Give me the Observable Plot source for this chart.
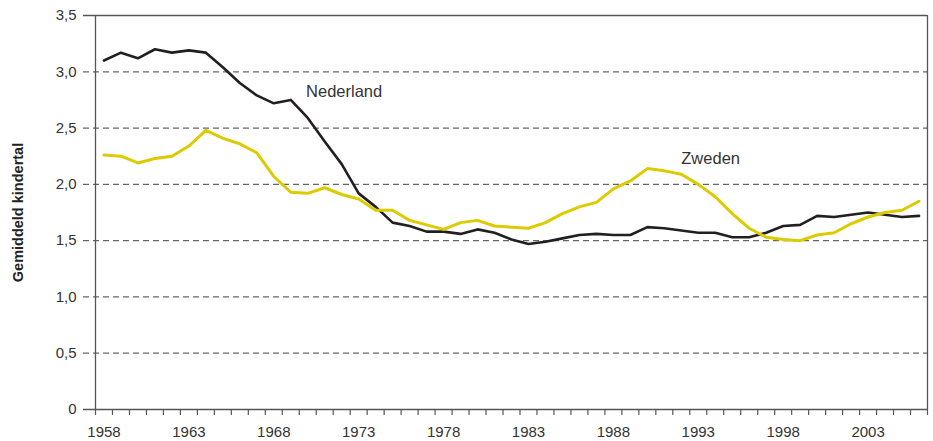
<!DOCTYPE html>
<html>
<head>
<meta charset="utf-8">
<script src="https://cdn.jsdelivr.net/npm/d3@7"></script>
<script src="https://cdn.jsdelivr.net/npm/@observablehq/plot@0.6"></script>
<style>
  html, body { margin: 0; padding: 0; background: #fff; }
  #chart { width: 933px; height: 441px; }
</style>
</head>
<body>
<div id="chart"></div>
<script>
const years = [1958,1959,1960,1961,1962,1963,1964,1965,1966,1967,1968,1969,1970,1971,1972,1973,1974,1975,1976,1977,1978,1979,1980,1981,1982,1983,1984,1985,1986,1987,1988,1989,1990,1991,1992,1993,1994,1995,1996,1997,1998,1999,2000,2001,2002,2003,2004,2005,2006];
const nederland = [3.10,3.17,3.12,3.20,3.17,3.19,3.17,3.04,2.90,2.79,2.72,2.75,2.59,2.38,2.18,1.92,1.80,1.66,1.63,1.58,1.58,1.56,1.60,1.57,1.51,1.47,1.49,1.52,1.55,1.56,1.55,1.55,1.62,1.61,1.59,1.57,1.57,1.53,1.53,1.57,1.63,1.64,1.72,1.71,1.73,1.75,1.73,1.71,1.72];
const zweden = [2.26,2.25,2.19,2.23,2.25,2.34,2.48,2.41,2.36,2.28,2.07,1.93,1.92,1.97,1.91,1.87,1.77,1.77,1.68,1.64,1.60,1.66,1.68,1.63,1.62,1.61,1.66,1.74,1.80,1.84,1.96,2.03,2.14,2.12,2.09,2.00,1.89,1.74,1.61,1.53,1.51,1.50,1.55,1.57,1.65,1.71,1.75,1.77,1.85];
const yTicks = [0,0.5,1.0,1.5,2.0,2.5,3.0,3.5];
const xLabelYears = [1958,1963,1968,1973,1978,1983,1988,1993,1998,2003];
const yTitle = "Gemiddeld kindertal";

const nlData = years.map((y,i) => ({year: y, value: nederland[i]}));
const seData = years.map((y,i) => ({year: y, value: zweden[i]}));
const fmt = d => d === 0 ? "0" : d.toFixed(1).replace(".", ",");
const boundaries = years.map(y => y - 0.5).concat([years[years.length-1] + 0.5]);

const chart = Plot.plot({
  width: 933,
  height: 441,
  marginLeft: 95,
  marginRight: 6,
  marginTop: 15,
  marginBottom: 32,
  style: {fontFamily: "Liberation Sans, Arial, sans-serif", fontSize: "15px", color: "#333", background: "#fff"},
  x: {domain: [years[0]-0.5, years[years.length-1]+0.5]},
  y: {domain: [0, 3.5]},
  marks: [
    Plot.ruleY(yTicks.filter(d => d > 0 && d < 3.5), {stroke: "#666", strokeWidth: 1.2, strokeDasharray: "6,4", insetLeft: -12}),
    Plot.ruleY([0, 3.5], {stroke: "#555", strokeWidth: 1.3, insetLeft: -12}),
    Plot.axisY({ticks: yTicks, tickFormat: fmt, tickSize: 0, tickPadding: 19, label: null, fill: "#333", fontSize: 15}),
    Plot.axisX({ticks: boundaries, tickFormat: () => "", tickSize: 6, stroke: "#555", strokeWidth: 1.2, label: null}),
    Plot.axisX({ticks: xLabelYears, tickFormat: d => String(d), tickSize: 0, tickPadding: 17, label: null, fill: "#333", fontSize: 15}),
    Plot.ruleX([years[0]-0.5, years[years.length-1]+0.5], {stroke: "#555", strokeWidth: 1.3}),
    Plot.line(nlData, {x: "year", y: "value", stroke: "#231f20", strokeWidth: 2.6}),
    Plot.line(seData, {x: "year", y: "value", stroke: "#dccb00", strokeWidth: 3}),
    Plot.text(["Nederland"], {x: 1969.9, y: 2.82, text: d => d, textAnchor: "start", fontSize: 16.5, fill: "#333"}),
    Plot.text(["Zweden"], {x: 1992.0, y: 2.23, text: d => d, textAnchor: "start", fontSize: 16.5, fill: "#333"}),
    Plot.text([yTitle], {frameAnchor: "left", dx: -77, rotate: -90, textAnchor: "middle", text: d => d, fontWeight: "bold", fontSize: 14.5, fill: "#222"})
  ]
});
document.getElementById("chart").appendChild(chart);
</script>
</body>
</html>
